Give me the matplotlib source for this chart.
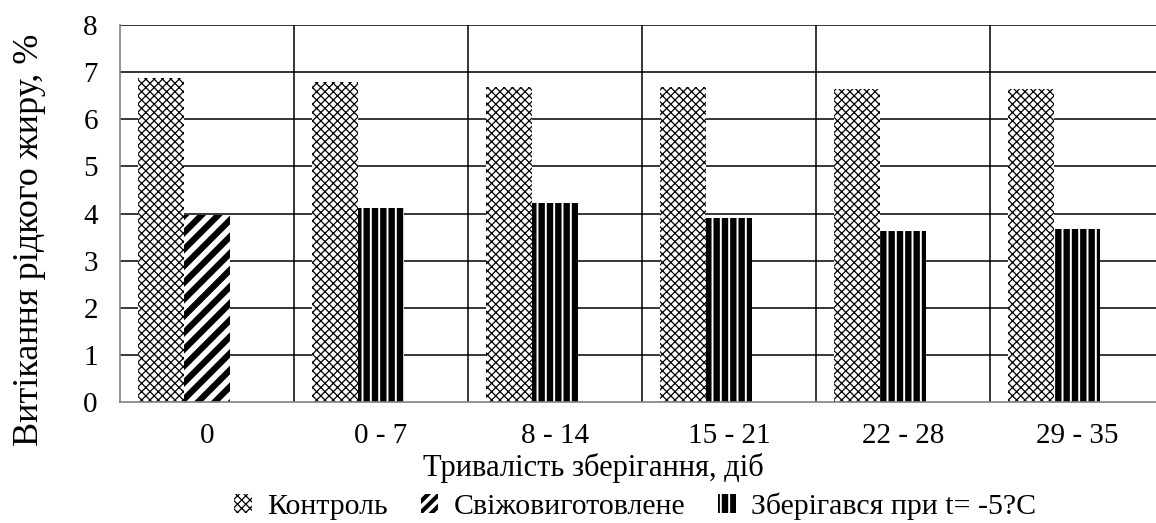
import matplotlib
matplotlib.use("Agg")
import matplotlib.pyplot as plt
from matplotlib.patches import Patch
import numpy as np

categories = ["0", "0 - 7", "8 - 14", "15 - 21", "22 - 28", "29 - 35"]
control = [6.87, 6.79, 6.69, 6.69, 6.64, 6.64]
fresh_cats = ["0"]
fresh = [3.97]
stored_cats = ["0 - 7", "8 - 14", "15 - 21", "22 - 28", "29 - 35"]
stored = [4.11, 4.22, 3.90, 3.63, 3.67]
yticks = [0, 1, 2, 3, 4, 5, 6, 7, 8]
legend_labels = ["Контроль", "Свіжовиготовлене", "Зберігався при t= -5?С"]

plt.rcParams['font.family'] = ['Liberation Serif', 'DejaVu Serif']
FS_TICK = 21
FS_XLAB = 22
FS_YLAB = 26
FS_LEG = 21.5

W, H = 1156, 523
fig = plt.figure(figsize=(W / 100, H / 100), dpi=100)
ax = fig.add_axes([120 / W, 1 - 402 / H, (1164 - 120) / W, (402 - 25) / H])

x = np.arange(len(categories))
idx = {c: i for i, c in enumerate(categories)}
bw = 0.265

HATCH_LW = [0.9, 4.5, 1.4]


def set_hlw(bars, lw):
    for b in bars:
        if hasattr(b, "set_hatch_linewidth"):
            b.set_hatch_linewidth(lw)


with plt.rc_context({'hatch.linewidth': HATCH_LW[0]}):
    b1 = ax.bar(x - bw, control, width=bw, align='center', facecolor='white',
                edgecolor='black', hatch='xxxx', linewidth=0, zorder=3)
set_hlw(b1, HATCH_LW[0])

fx = np.array([idx[c] for c in fresh_cats])
with plt.rc_context({'hatch.linewidth': HATCH_LW[1]}):
    b2 = ax.bar(fx, fresh, width=bw, align='center', facecolor='white',
                edgecolor='black', hatch='//', linewidth=0, zorder=3)
set_hlw(b2, HATCH_LW[1])

sx = np.array([idx[c] for c in stored_cats])
with plt.rc_context({'hatch.linewidth': HATCH_LW[2]}):
    b3 = ax.bar(sx, stored, width=bw, align='center', facecolor='black',
                edgecolor='white', hatch='||', linewidth=0, zorder=3)
set_hlw(b3, HATCH_LW[2])

ax.set_xlim(-0.5, len(categories) - 0.5)
ax.set_ylim(0, 8)
ax.set_yticks(yticks)
ax.set_yticklabels([str(v) for v in yticks], fontsize=FS_TICK)
ax.set_xticks(x)
ax.set_xticklabels(categories, fontsize=FS_TICK)
ax.tick_params(axis='y', length=0, pad=16)
ax.tick_params(axis='x', length=0, pad=15)

for v in yticks[1:]:
    ax.axhline(v, color='black', lw=1.1, zorder=1)
for i in range(len(categories) - 1):
    ax.axvline(i + 0.5, color='black', lw=1.1, zorder=1)

for s in ['top', 'right']:
    ax.spines[s].set_visible(False)
for s in ['left', 'bottom']:
    ax.spines[s].set_color('#808080')
    ax.spines[s].set_linewidth(1.2)
    ax.spines[s].set_zorder(4)

fig.text(593 / W, 1 - 468 / H, "Тривалість зберігання, діб", fontsize=FS_XLAB,
         ha='center', va='center')
fig.text(30 / W, 1 - 240 / H, "Витікання рідкого жиру, %", fontsize=FS_YLAB,
         ha='center', va='center', rotation=90)

handles = [
    Patch(facecolor='white', edgecolor='black', hatch='xxxx', linewidth=0),
    Patch(facecolor='white', edgecolor='black', hatch='///', linewidth=0),
    Patch(facecolor='black', edgecolor='white', hatch='||', linewidth=0),
]
leg = fig.legend(handles, legend_labels, loc='center', bbox_to_anchor=(635 / W, 1 - 506 / H),
                 ncol=3, frameon=False, fontsize=FS_LEG, handlelength=0.6, handleheight=0.6,
                 handletextpad=0.5, columnspacing=1.1)
for p, lw in zip(leg.get_patches(), [0.9, 3.0, 1.4]):
    if hasattr(p, "set_hatch_linewidth"):
        p.set_hatch_linewidth(lw)

fig.savefig("out.png", dpi=100)
